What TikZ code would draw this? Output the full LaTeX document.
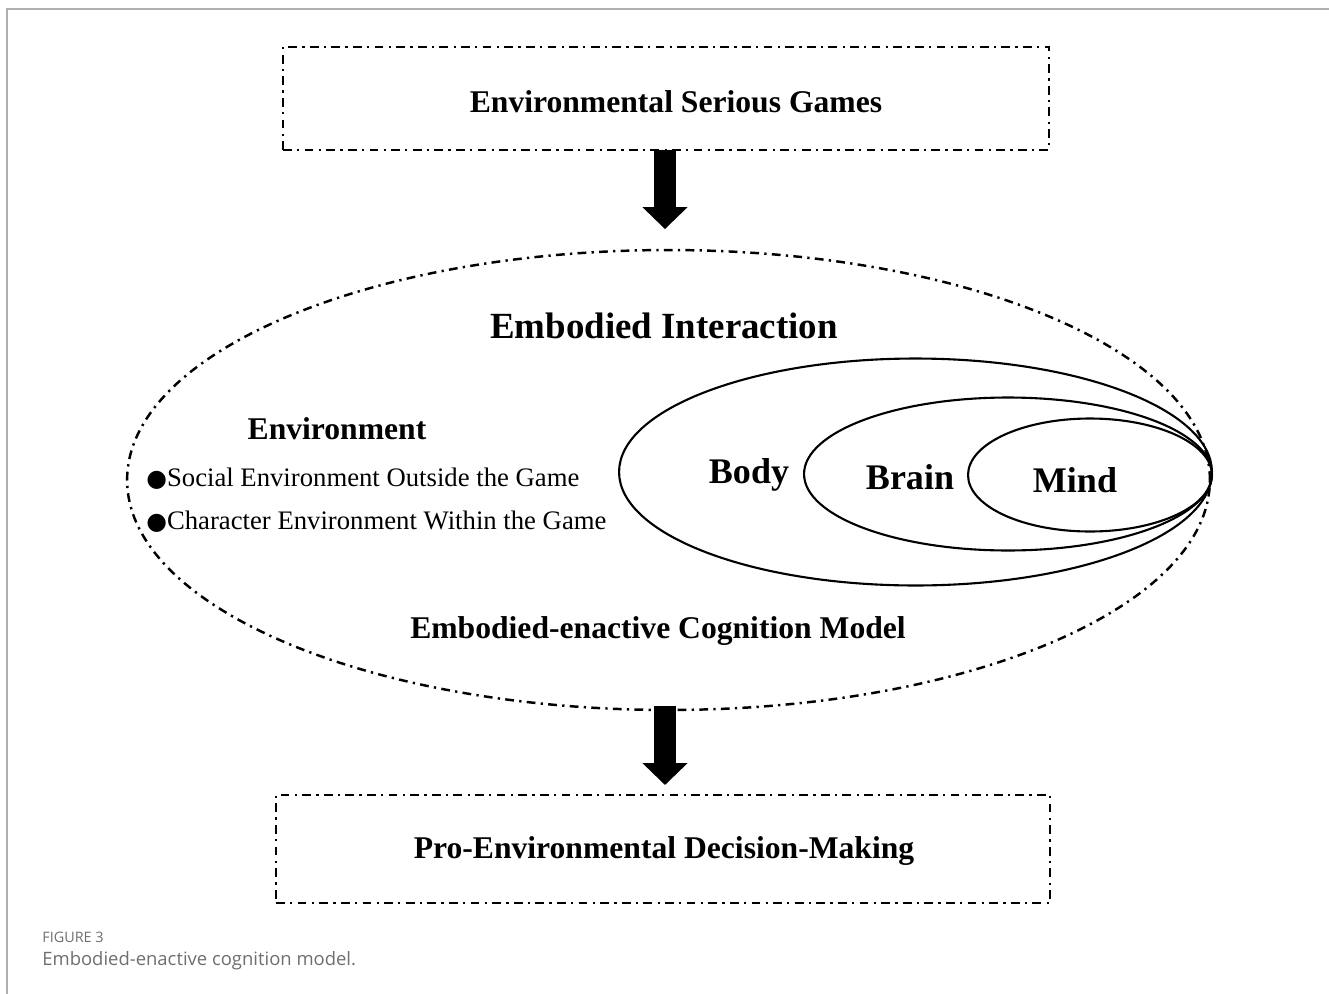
\documentclass[tikz,border=0pt]{standalone}
\usepackage{fontspec}
\setmainfont{Liberation Serif}
\newfontfamily\capfont{Open Sans}
\newfontfamily\symfont{DejaVu Sans}
\usetikzlibrary{shapes.geometric,arrows.meta,calc}
\definecolor{capgray}{RGB}{110,110,110}
\definecolor{framegray}{RGB}{175,175,175}
\newcommand{\blt}{{\symfont\fontsize{13.5}{17}\selectfont●}}
\tikzset{
  dashdot/.style={line width=1.4pt, dash pattern=on 5pt off 3pt on 1.3pt off 3pt},
  ebox/.style={draw, dashdot, inner sep=0pt, outer sep=0pt},
  oval/.style={draw, ellipse, line width=1.2pt, inner sep=0pt, outer sep=0pt},
  bigarrow/.style={line width=12.5pt, -{Triangle[width=25pt,length=12.5pt]}},
  lbl/.style={font=\fontsize{18}{20}\selectfont\bfseries, inner sep=0pt},
  sub/.style={font=\fontsize{20.5}{22}\selectfont\bfseries, inner sep=0pt},
  item/.style={font=\fontsize{15.2}{17}\selectfont, inner sep=0pt, anchor=west},
  captext/.style={text=capgray, anchor=west, inner sep=0pt}
}
\begin{document}
\begin{tikzpicture}[x=0.02cm,y=-0.02cm]
\useasboundingbox (0,0) rectangle (1329,994);
% frame
\draw[framegray, line width=1.5pt] (7,994) -- (7,9) -- (1329,9);
% top box
\node[ebox, minimum width=15.32cm, minimum height=2.06cm] (top) at (666,98.5) {};
\node[lbl] (toplbl) at (676,102) {Environmental Serious Games};
% big ellipse
\node[ebox, ellipse, minimum width=21.66cm, minimum height=9.2cm] (big) at (668.5,480) {};
\node[font=\fontsize{21}{23}\selectfont\bfseries, inner sep=0pt] (ei) at (664,326) {Embodied Interaction};
\node[lbl] (env) at (337,429) {Environment};
\node[item] (it1) at (146,479) {\blt Social Environment Outside the Game};
\node[item] (it2) at (146,522) {\blt Character Environment Within the Game};
% nested ellipses
\node[oval, minimum width=11.86cm, minimum height=4.54cm] (body) at (915.5,472) {};
\node[oval, minimum width=8.16cm, minimum height=3.06cm] (brain) at (1008,474) {};
\node[oval, minimum width=4.88cm, minimum height=2.26cm] (mind) at (1090,475) {};
\node[sub] (bodyl) at (749,475) {Body};
\node[sub] (brainl) at (910,477) {Brain};
\node[sub] (mindl) at (1075,480) {Mind};
\node[lbl] (ecm) at (658,631) {Embodied-enactive Cognition Model};
% bottom box
\node[ebox, minimum width=15.48cm, minimum height=2.16cm] (bot) at (663,849) {};
\node[lbl] (botlbl) at (664,851) {Pro-Environmental Decision-Making};
% arrows
\draw[bigarrow, shorten >=0.42cm] (top.south -| 665,0) -- (big.north -| 665,0);
\draw[bigarrow, shorten <=-0.08cm, shorten >=0.2cm] (big.south -| 665,0) -- (bot.north -| 665,0);
% caption
\node[captext, font=\capfont\fontsize{8.2}{10}\selectfont] (fig) at (42,937) {FIGURE 3};
\node[captext, font=\capfont\fontsize{10.5}{12}\selectfont] (cap) at (42,961) {Embodied-enactive cognition model.};
\end{tikzpicture}
\end{document}
